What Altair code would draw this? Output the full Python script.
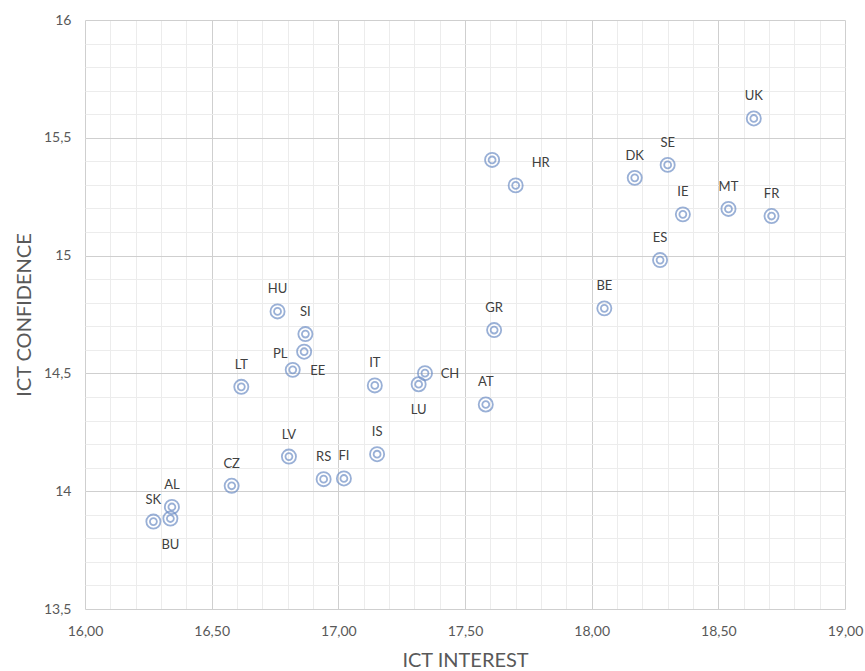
import altair as alt
import pandas as pd

codes = ["UK", "SE", "DK", "IE", "MT", "FR", "ES", "BE", "GR", "", "HR",
         "HU", "SI", "PL", "EE", "LT", "IT", "CH", "LU", "AT", "LV", "IS",
         "RS", "FI", "CZ", "AL", "BU", "SK"]
interest = [18.64, 18.30, 18.17, 18.36, 18.54, 18.71, 18.27, 18.05, 17.615, 17.607, 17.70,
            16.76, 16.87, 16.865, 16.82, 16.617, 17.144, 17.342, 17.317, 17.582, 16.805, 17.153,
            16.942, 17.022, 16.579, 16.343, 16.337, 16.270]
confidence = [15.582, 15.385, 15.330, 15.175, 15.198, 15.168, 14.981, 14.776, 14.684, 15.406, 15.298,
              14.763, 14.667, 14.592, 14.515, 14.443, 14.449, 14.501, 14.454, 14.368, 14.147, 14.157,
              14.051, 14.054, 14.023, 13.933, 13.884, 13.871]
placement = ["above", "above", "above", "above", "above", "above", "above", "above", "above", "none", "upright",
             "above", "above", "left", "right", "above", "above", "right", "below", "above", "above", "above",
             "above", "above", "above", "above", "below", "above"]

x_major = [16.0, 16.5, 17.0, 17.5, 18.0, 18.5, 19.0]
y_major = [13.5, 14.0, 14.5, 15.0, 15.5, 16.0]
x_minor = [round(16.0 + 0.1 * i, 1) for i in range(31)]
y_minor = [round(13.5 + 0.1 * i, 1) for i in range(26)]

df = pd.DataFrame({"code": codes, "interest": interest,
                   "confidence": confidence, "place": placement})

FONT = "Lato"
BLUE = "#6F8FC6"
xs = alt.Scale(domain=[16, 19], nice=False, zero=False)
ys = alt.Scale(domain=[13.5, 16], nice=False, zero=False)

base = alt.Chart(df)

minor = base.mark_point(shape="circle", size=200, filled=False, stroke=BLUE, strokeWidth=1.8).encode(
    x=alt.X("interest:Q", scale=xs,
            axis=alt.Axis(values=x_minor, grid=True, gridColor="#ECECEC", gridWidth=1,
                          labels=False, ticks=False, domain=False, title=None, orient="bottom")),
    y=alt.Y("confidence:Q", scale=ys,
            axis=alt.Axis(values=y_minor, grid=True, gridColor="#ECECEC", gridWidth=1,
                          labels=False, ticks=False, domain=False, title=None, orient="left")),
)

major = base.mark_point(shape="circle", size=48, filled=False, stroke=BLUE, strokeWidth=1.8).encode(
    x=alt.X("interest:Q", scale=xs,
            axis=alt.Axis(values=x_major, grid=True, gridColor="#CFCFCF", gridWidth=1,
                          labelExpr="replace(format(datum.value, '.2f'), '.', ',')",
                          ticks=False, domain=False, orient="bottom", labelFlush=False,
                          title="ICT INTEREST", titleFont=FONT, titleFontSize=20,
                          titleFontWeight="normal", titleColor="#595959", titlePadding=12,
                          labelFont=FONT, labelFontSize=14, labelColor="#595959", labelPadding=15)),
    y=alt.Y("confidence:Q", scale=ys,
            axis=alt.Axis(values=y_major, grid=True, gridColor="#CFCFCF", gridWidth=1,
                          labelExpr="replace(toString(datum.value), '.', ',')",
                          ticks=False, domain=False, orient="left", labelFlush=False,
                          title="ICT CONFIDENCE", titleFont=FONT, titleFontSize=20,
                          titleFontWeight="normal", titleColor="#595959", titlePadding=9,
                          labelFont=FONT, labelFontSize=14, labelColor="#595959", labelPadding=14)),
)

offsets = {"above": (0, -22), "below": (0, 26), "right": (25, 1),
           "left": (-24, 2), "upright": (25, -22)}

texts = []
for p, (dx, dy) in offsets.items():
    texts.append(
        base.transform_filter(alt.datum.place == p)
        .mark_text(font=FONT, fontSize=13, color="#404040", dx=dx, dy=dy, baseline="middle")
        .encode(x=alt.X("interest:Q", scale=xs, axis=None),
                y=alt.Y("confidence:Q", scale=ys, axis=None),
                text="code:N")
    )

chart = alt.layer(minor, major, *texts).resolve_axis(x="independent", y="independent").properties(
    width=760, height=589,
    autosize=alt.AutoSizeParams(type="none"),
    padding={"left": 85, "top": 20, "right": 20, "bottom": 62},
    background="white",
).configure_view(stroke=None)

chart.save("out.html", embed_options={"renderer": "svg", "actions": False})
